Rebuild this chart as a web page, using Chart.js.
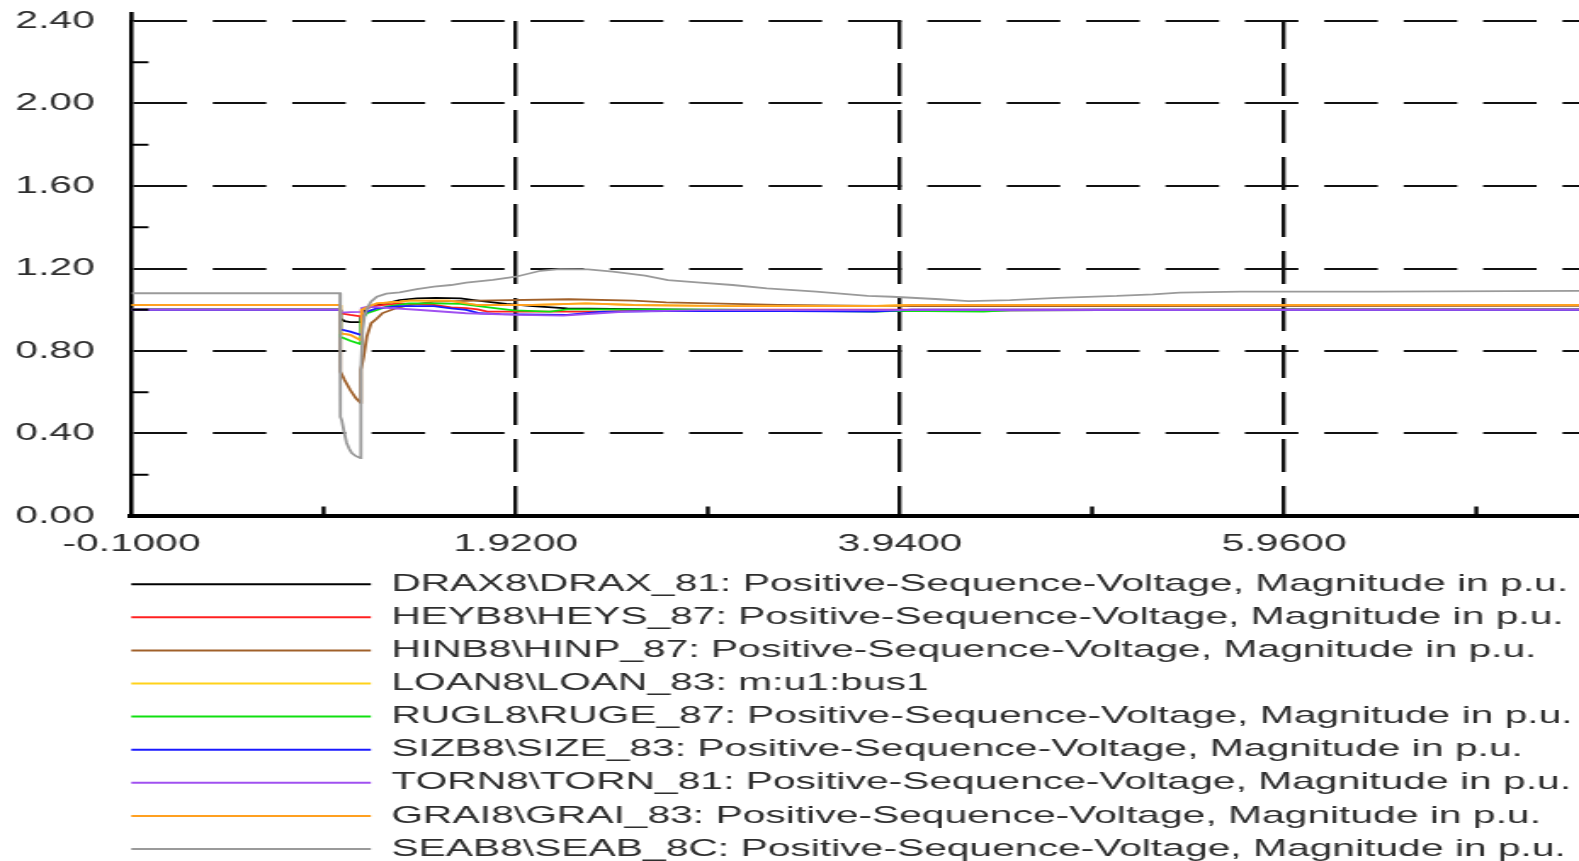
<!DOCTYPE html>
<html>
<head>
<meta charset="utf-8">
<title>Positive-Sequence-Voltage</title>
<script src="https://cdn.jsdelivr.net/npm/chart.js@4.4.1/dist/chart.umd.min.js"></script>
<style>
  html, body { margin: 0; padding: 0; background: #fff; overflow: hidden; width: 1579px; height: 861px; }
  /* the plot is drawn on a narrower canvas and widened, giving the wide lettering of the plot export */
  #wrap { position: absolute; left: 0; top: 0; width: 929px; height: 871px; transform: scaleX(1.69968); transform-origin: 0 0; }
  canvas { display: block; }
</style>
</head>
<body>
<div id="wrap"><canvas id="c" width="929" height="871" style="width:929px;height:871px"></canvas></div>
<script>
// ---- axis ticks ----
const xMajorTicks = [-0.1, 1.92, 3.94, 5.96];
const xMinorTicks = [0.91, 2.93, 4.95, 6.97];
const yMajorTicks = [0, 0.4, 0.8, 1.2, 1.6, 2.0, 2.4];
const yMinorTicks = [0.2, 0.6, 1.0, 1.4, 1.8, 2.2];

// ---- series labels and colours ----
const seriesLabels = [
  'DRAX8\\DRAX_81: Positive-Sequence-Voltage, Magnitude in p.u.',
  'HEYB8\\HEYS_87: Positive-Sequence-Voltage, Magnitude in p.u.',
  'HINB8\\HINP_87: Positive-Sequence-Voltage, Magnitude in p.u.',
  'LOAN8\\LOAN_83: m:u1:bus1',
  'RUGL8\\RUGE_87: Positive-Sequence-Voltage, Magnitude in p.u.',
  'SIZB8\\SIZE_83: Positive-Sequence-Voltage, Magnitude in p.u.',
  'TORN8\\TORN_81: Positive-Sequence-Voltage, Magnitude in p.u.',
  'GRAI8\\GRAI_83: Positive-Sequence-Voltage, Magnitude in p.u.',
  'SEAB8\\SEAB_8C: Positive-Sequence-Voltage, Magnitude in p.u.'
];
const seriesColors = ['#000000', '#ff2020', '#a0602a', '#ffd21a', '#10e010', '#1a1aff', '#a050f0', '#ffa020', '#9a9a9a'];

// ---- time (s) and voltage (p.u.) samples per bus ----
const DRAX_t = [-0.1, 0.996, 0.998, 1.02, 1.05, 1.104, 1.106, 1.137, 1.19, 1.24, 1.31, 1.40, 1.50, 1.63, 1.70, 1.80, 1.87, 2.01, 2.19, 2.54, 2.96, 3.30, 3.60, 4.2, 5.0, 6.0, 7.51];
const DRAX_v = [1.000, 1.000, 0.958, 0.945, 0.940, 0.940, 0.966, 1.007, 1.023, 1.031, 1.047, 1.055, 1.058, 1.055, 1.047, 1.036, 1.028, 1.018, 1.007, 1.003, 0.999, 0.996, 0.994, 0.996, 0.998, 1.000, 1.000];

const HEYB_t = [-0.1, 0.996, 0.998, 1.05, 1.104, 1.110, 1.14, 1.19, 1.31, 1.49, 1.58, 1.66, 1.72, 1.77, 1.91, 2.36, 2.54, 2.71, 3.2, 7.51];
const HEYB_v = [1.000, 1.000, 0.983, 0.975, 0.968, 0.999, 1.010, 1.020, 1.031, 1.024, 1.012, 1.008, 1.002, 0.991, 0.991, 0.991, 0.995, 0.999, 1.000, 1.000];

const HINB_t = [-0.1, 0.996, 0.998, 1.02, 1.05, 1.08, 1.104, 1.106, 1.12, 1.137, 1.16, 1.19, 1.22, 1.29, 1.36, 1.49, 1.72, 2.20, 2.54, 2.71, 3.06, 3.30, 3.70, 4.00, 5.00, 7.51];
const HINB_v = [1.022, 1.022, 0.700, 0.659, 0.611, 0.571, 0.549, 0.710, 0.770, 0.870, 0.935, 0.958, 0.984, 1.007, 1.023, 1.039, 1.044, 1.051, 1.044, 1.036, 1.028, 1.024, 1.020, 1.018, 1.018, 1.019];

const GRAI_t = [-0.1, 0.996, 0.998, 1.05, 1.104, 1.110, 1.137, 1.19, 1.31, 1.36, 1.57, 1.66, 1.72, 2.01, 2.29, 2.54, 3.06, 3.77, 4.00, 7.51];
const GRAI_v = [1.023, 1.023, 0.886, 0.878, 0.853, 1.000, 1.012, 1.031, 1.039, 1.044, 1.044, 1.031, 1.023, 1.023, 1.031, 1.023, 1.018, 1.018, 1.023, 1.023];

const LOAN_t = GRAI_t.slice();
const LOAN_v = GRAI_v.slice();

const RUGL_t = [-0.1, 0.996, 0.998, 1.05, 1.104, 1.106, 1.137, 1.19, 1.24, 1.36, 1.49, 1.63, 1.82, 1.91, 2.10, 2.19, 2.36, 3.00, 3.81, 3.93, 4.38, 4.52, 5.0, 7.51];
const RUGL_v = [1.000, 1.000, 0.869, 0.850, 0.834, 0.950, 0.983, 0.999, 1.015, 1.031, 1.031, 1.028, 1.007, 0.997, 0.991, 1.002, 1.002, 1.000, 0.991, 0.995, 0.991, 0.998, 1.000, 1.000];

const SIZB_t = [-0.1, 0.996, 0.998, 1.05, 1.104, 1.110, 1.137, 1.19, 1.31, 1.49, 1.58, 1.66, 1.73, 1.84, 2.19, 2.36, 2.71, 3.35, 3.80, 4.0, 7.51];
const SIZB_v = [1.000, 1.000, 0.905, 0.894, 0.878, 0.960, 0.991, 1.007, 1.018, 1.018, 1.007, 0.999, 0.983, 0.979, 0.975, 0.990, 0.994, 0.994, 0.991, 1.000, 1.000];

const TORN_t = [-0.1, 0.996, 0.998, 1.05, 1.104, 1.110, 1.14, 1.20, 1.40, 1.66, 1.93, 2.17, 2.36, 2.50, 2.90, 7.51];
const TORN_v = [1.000, 1.000, 0.986, 0.988, 0.990, 1.008, 1.015, 1.012, 1.000, 0.983, 0.975, 0.972, 0.983, 0.991, 0.998, 1.000];

const SEAB_t = [-0.1, 0.996, 0.998, 1.005, 1.019, 1.031, 1.045, 1.058, 1.08, 1.104, 1.106, 1.115, 1.125, 1.14, 1.16, 1.19, 1.24, 1.31, 1.40, 1.49, 1.58, 1.66, 1.80, 1.92, 2.05, 2.15, 2.30, 2.43, 2.60, 2.72, 2.89, 3.06, 3.24, 3.50, 3.77, 3.90, 4.15, 4.30, 4.52, 4.77, 5.08, 5.27, 5.41, 5.73, 6.43, 7.51];
const SEAB_v = [1.080, 1.080, 0.481, 0.465, 0.402, 0.354, 0.325, 0.305, 0.290, 0.281, 0.708, 0.900, 0.970, 1.010, 1.040, 1.063, 1.078, 1.084, 1.100, 1.112, 1.120, 1.131, 1.145, 1.160, 1.189, 1.197, 1.196, 1.185, 1.165, 1.144, 1.131, 1.120, 1.104, 1.088, 1.067, 1.063, 1.051, 1.042, 1.047, 1.058, 1.067, 1.075, 1.083, 1.088, 1.088, 1.092];

const seriesTimes = [DRAX_t, HEYB_t, HINB_t, LOAN_t, RUGL_t, SIZB_t, TORN_t, GRAI_t, SEAB_t];
const seriesValues = [DRAX_v, HEYB_v, HINB_v, LOAN_v, RUGL_v, SIZB_v, TORN_v, GRAI_v, SEAB_v];

// ---- layout (canvas units, before the horizontal widening) ----
const FONT = { family: "'Liberation Sans', Arial, sans-serif", size: 24 };
const TEXT_COLOR = '#2e2e2e';
const LEGEND_PAD = 9.1;
const LEFT_PAD = 68.1;
const AXIS_X = 77.37;
const PLOT_TOP = 21;

const datasets = seriesLabels.map((label, i) => ({
  label,
  data: seriesTimes[i].map((t, k) => ({ x: t, y: seriesValues[i][k] })),
  borderColor: seriesColors[i],
  backgroundColor: seriesColors[i],
  borderWidth: 1.8,
  pointRadius: 0,
  tension: 0,
  order: seriesLabels.length - i   // later buses are painted over earlier ones
}));

const minorTickPlugin = {
  id: 'minorTicks',
  afterDraw(chart) {
    const { ctx, chartArea, scales } = chart;
    const seg = (x1, y1, x2, y2) => { ctx.beginPath(); ctx.moveTo(x1, y1); ctx.lineTo(x2, y2); ctx.stroke(); };
    ctx.save();
    ctx.strokeStyle = '#000';
    ctx.lineWidth = 2;
    yMinorTicks.forEach(v => { const py = scales.y.getPixelForValue(v); seg(chartArea.left, py, chartArea.left + 10, py); });
    ctx.lineWidth = 2.35;
    xMinorTicks.forEach(v => { const px = scales.x.getPixelForValue(v); seg(px, chartArea.bottom, px, chartArea.bottom - 9.5); });
    ctx.lineWidth = 2.5;
    seg(chartArea.left, chartArea.top - 9, chartArea.left, chartArea.top);
    ctx.restore();
  }
};

const baseLabels = Chart.defaults.plugins.legend.labels.generateLabels;

new Chart(document.getElementById('c'), {
  type: 'line',
  data: { datasets },
  plugins: [minorTickPlugin],
  options: {
    responsive: false,
    animation: false,
    devicePixelRatio: 1,
    layout: { padding: { left: LEFT_PAD, top: PLOT_TOP, right: 0, bottom: 0 } },
    scales: {
      x: {
        type: 'linear',
        min: -0.1,
        max: 7.51,
        afterBuildTicks: s => { s.ticks = xMajorTicks.map(v => ({ value: v })); },
        afterFit: s => { s.height = 47.1; },
        ticks: {
          autoSkip: false, maxRotation: 0, padding: 14,
          font: FONT, color: TEXT_COLOR,
          callback: v => Number(v).toFixed(4)
        },
        grid: {
          drawTicks: false,
          lineWidth: 2.35,
          color: c => (c.tick && c.tick.value === -0.1) ? 'rgba(0,0,0,0)' : '#111'
        },
        border: { display: true, color: '#000', width: 4, dash: [33, 14], dashOffset: 5 }
      },
      y: {
        type: 'linear',
        min: 0,
        max: 2.4,
        afterBuildTicks: s => { s.ticks = yMajorTicks.map(v => ({ value: v })); },
        afterFit: s => { s.width = AXIS_X - LEFT_PAD; },
        ticks: {
          mirror: true,
          padding: -68.3,
          font: FONT, color: TEXT_COLOR,
          callback: v => Number(v).toFixed(2)
        },
        grid: {
          drawTicks: false,
          lineWidth: 2,
          color: c => (c.tick && c.tick.value === 0) ? 'rgba(0,0,0,0)' : '#111'
        },
        border: { display: true, color: '#000', width: 2.5, dash: [31.47, 15.24], dashOffset: 0 }
      }
    },
    plugins: {
      tooltip: { enabled: false },
      legend: {
        display: true,
        position: 'bottom',
        align: 'start',
        labels: {
          font: FONT,
          color: TEXT_COLOR,
          boxWidth: 141,
          boxHeight: 2,
          padding: LEGEND_PAD,
          sort: (a, b) => a.datasetIndex - b.datasetIndex,
          generateLabels: chart => baseLabels(chart).map(item => Object.assign(item, { lineWidth: 0 }))
        }
      }
    }
  }
});
</script>
</body>
</html>
